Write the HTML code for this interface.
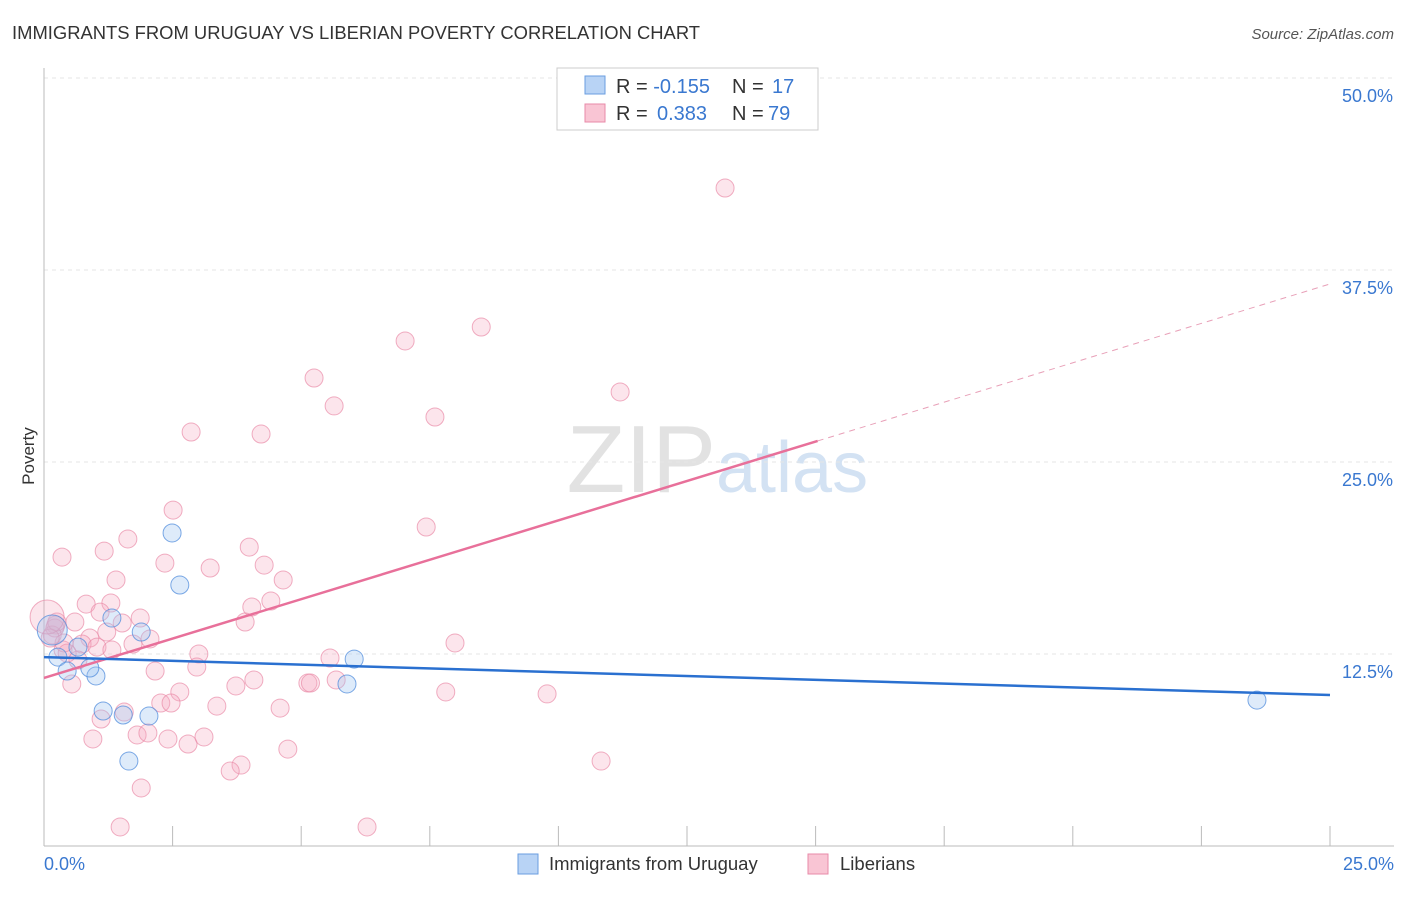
<!DOCTYPE html>
<html><head><meta charset="utf-8"><style>
body{margin:0;background:#fff;font-family:"Liberation Sans",sans-serif;}
svg text{font-family:"Liberation Sans",sans-serif;}
</style></head><body>
<svg width="1406" height="892" xmlns="http://www.w3.org/2000/svg" id="chart">
<text x="12" y="39" font-size="18.4" fill="#333" textLength="688">IMMIGRANTS FROM URUGUAY VS LIBERIAN POVERTY CORRELATION CHART</text>
<text x="1394" y="39" font-size="15" fill="#555" font-style="italic" text-anchor="end">Source: ZipAtlas.com</text>
<text x="716" y="492" font-size="96" fill="#e2e2e2" text-anchor="end" font-family="Liberation Serif">ZIP</text>
<text x="716" y="492" font-size="72" fill="#d3e2f3">atlas</text>
<text x="34" y="456" font-size="17" fill="#333" transform="rotate(-90 34 456)" text-anchor="middle">Poverty</text>
<g id="grid"></g><g id="axes"></g><g id="marks"></g>
<g>
<rect x="557" y="68" width="261" height="62" fill="#fff" stroke="#ccc"/>
<rect x="585" y="76" width="20" height="18" fill="#b8d3f5" stroke="#6a9ee0"/>
<rect x="585" y="104" width="20" height="18" fill="#f9c5d4" stroke="#e88aa8"/>
<text x="616" y="93" font-size="20" fill="#333">R = <tspan fill="#3a78d0">-0.155</tspan><tspan x="732">N = </tspan><tspan fill="#3a78d0" x="772">17</tspan></text>
<text x="616" y="120" font-size="20" fill="#333">R = <tspan fill="#3a78d0" x="657">0.383</tspan><tspan x="732">N = </tspan><tspan fill="#3a78d0" x="768">79</tspan></text>
</g>
<g>
<rect x="518" y="854" width="20" height="20" fill="#b8d3f5" stroke="#6a9ee0"/>
<text x="549" y="870" font-size="18.5" fill="#333">Immigrants from Uruguay</text>
<rect x="808" y="854" width="20" height="20" fill="#f9c5d4" stroke="#e88aa8"/>
<text x="840" y="870" font-size="18.5" fill="#333">Liberians</text>
</g>
</svg>
<script>
const yTicks=[12.5,25,37.5,50];
const yTickLabels=["12.5%","25.0%","37.5%","50.0%"];
const xTickLabels=["0.0%","25.0%"];
const pinkX=[13.24,8.50,7.02,5.25,11.20,5.64,7.60,2.86,4.22,7.43,2.51,1.63,0.35,1.17,3.99,2.35,3.23,4.28,1.40,4.65,0.82,1.30,4.41,4.04,1.09,1.87,0.60,3.91,0.23,1.22,0.89,2.06,7.99,0.74,1.73,1.03,0.37,1.32,3.01,5.56,0.66,2.16,2.97,4.08,5.13,5.68,3.73,2.64,7.81,9.78,0.54,1.11,1.56,3.36,4.59,2.27,2.47,0.95,1.81,2.02,2.41,2.80,3.11,4.74,3.83,3.62,10.83,1.89,1.48,6.28,0.21,0.16,0.25,0.45,0.39,1.52,0.12,5.18,0.06];
const pinkY=[42.84,33.79,32.88,30.47,29.56,28.65,27.93,26.95,26.82,20.77,21.87,19.99,18.81,19.20,19.46,18.42,18.10,18.29,17.32,17.32,15.75,15.82,15.95,15.56,15.23,14.84,14.58,14.58,14.39,13.93,13.54,13.48,13.22,13.15,13.15,12.95,12.76,12.76,12.50,12.24,12.11,11.39,11.65,10.81,10.61,10.81,10.42,10.03,10.03,9.90,10.55,8.27,8.72,9.11,8.98,9.31,9.31,6.97,7.23,7.36,6.97,6.64,7.10,6.31,5.27,4.88,5.53,3.78,1.24,1.24,14.19,13.74,14.58,12.56,13.22,14.52,13.54,10.61,14.91];
const blueX=[2.49,2.64,1.32,1.89,0.66,0.27,0.45,1.01,6.03,5.89,1.15,2.04,1.54,1.65,23.58,0.16,0.89];
const blueY=[20.38,16.99,14.84,13.93,12.95,12.30,11.39,11.07,12.17,10.55,8.79,8.46,8.53,5.53,9.50,14.06,11.59];
const blueTrend=[12.30,9.83];
const pinkTrend=[10.94,36.59];
const xMax=25, pinkSolidEnd=15.04;
const X=v=>44+v/25*1286, Y=v=>846-v/12.5*192;
const NS="http://www.w3.org/2000/svg";
function mk(tag,attrs,parent){const e=document.createElementNS(NS,tag);for(const k in attrs)e.setAttribute(k,attrs[k]);document.getElementById(parent).appendChild(e);return e;}
yTicks.forEach((t,i)=>{
 const l=mk('line',{x1:44,x2:1394,y1:Y(t),y2:Y(t),stroke:'#e6e6e6','stroke-dasharray':'4,4'},'grid');
 
 
 const tx=mk('text',{x:1393,y:Y(t)+24,'font-size':18,fill:'#3a78d0','text-anchor':'end'},'grid');
 tx.textContent=yTickLabels[i];
 
 
});
const ax=mk('line',{x1:44,x2:44,y1:68,y2:846,stroke:'#bbb'},'axes');


const bx=mk('line',{x1:44,x2:1394,y1:846,y2:846,stroke:'#bbb'},'axes');


for(let i=1;i<=10;i++){const t=mk('line',{x1:X(i*2.5),x2:X(i*2.5),y1:826,y2:846,stroke:'#bbb'},'axes');
 
 }
[[0,'start',44],[25,'end',1394]].forEach((a,i)=>{const t=mk('text',{x:a[2],y:870,'font-size':18,fill:'#3a78d0','text-anchor':a[1]},'axes');t.textContent=xTickLabels[i];
 
 });
pinkX.forEach((v,i)=>{const c=mk('circle',{cx:X(v),cy:Y(pinkY[i]),r:i==pinkX.length-1?17:9,fill:'rgba(246,170,192,0.3)',stroke:'rgba(234,140,168,0.7)','stroke-width':1},'marks');
 
 });
blueX.forEach((v,i)=>{const c=mk('circle',{cx:X(v),cy:Y(blueY[i]),r:i==15?15:9,fill:'rgba(160,198,242,0.35)',stroke:'rgba(80,140,220,0.75)','stroke-width':1},'marks');
 
 });
const pm=pinkTrend[0]+(pinkTrend[1]-pinkTrend[0])*pinkSolidEnd/xMax;
const p1=mk('line',{x1:X(0),y1:Y(pinkTrend[0]),x2:X(pinkSolidEnd),y2:Y(pm),stroke:'#e8709a','stroke-width':2.5},'marks');


const p2=mk('line',{x1:X(pinkSolidEnd),y1:Y(pm),x2:X(xMax),y2:Y(pinkTrend[1]),stroke:'#e8a0b8','stroke-width':1,'stroke-dasharray':'6,5'},'marks');


const b1=mk('line',{x1:X(0),y1:Y(blueTrend[0]),x2:X(xMax),y2:Y(blueTrend[1]),stroke:'#2a70d0','stroke-width':2.5},'marks');


</script>
</body></html>
